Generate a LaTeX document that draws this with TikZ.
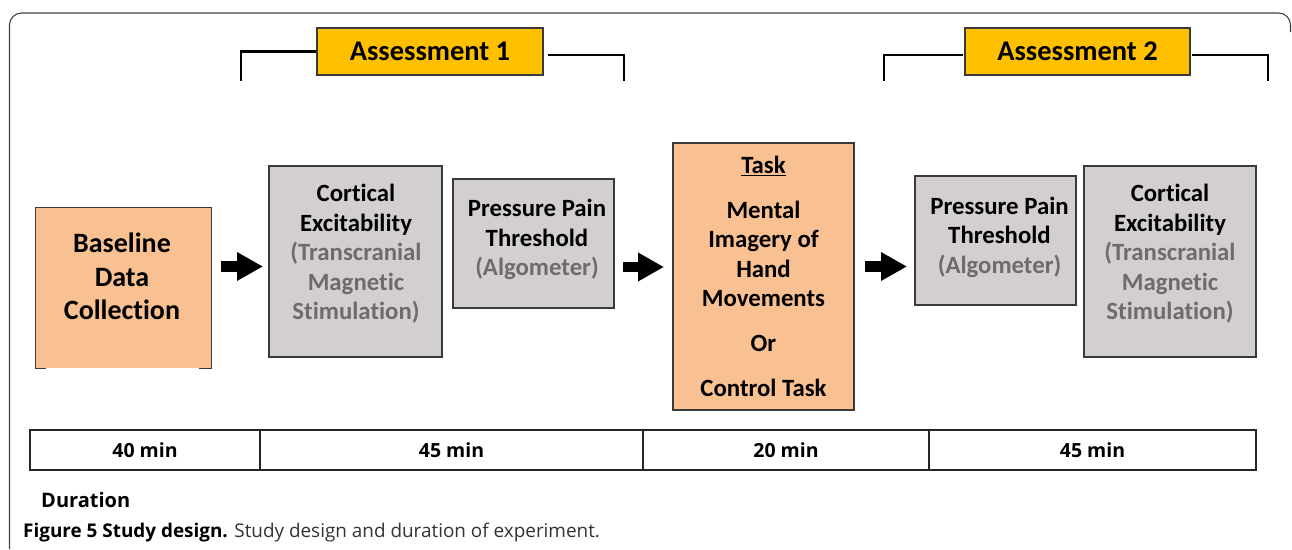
\documentclass[tikz,border=0pt]{standalone}
\usepackage{fontspec}
\setmainfont{Carlito}[Ligatures=NoCommon]
\newfontfamily\capfont{Open Sans}
\usetikzlibrary{arrows.meta,calc}
\definecolor{orangefill}{HTML}{F9C191}
\definecolor{greyfill}{HTML}{D2CFCE}
\definecolor{goldfill}{HTML}{FFC000}
\definecolor{greytext}{HTML}{6F6B6B}
\definecolor{edge}{HTML}{3A3A3A}
\begin{document}
\begin{tikzpicture}[x=1pt,y=-1pt,
  boxbase/.style={draw=edge,line width=1.2pt,inner sep=0pt},
  greybox/.style={boxbase,fill=greyfill},
  orangebox/.style={boxbase,fill=orangefill},
  goldbox/.style={boxbase,fill=goldfill,font=\fontsize{28.5}{32}\selectfont\bfseries},
  boxtext/.style={align=center,inner sep=0pt,font=\fontsize{24.8}{29.5}\selectfont\bfseries},
  bigtext/.style={align=center,inner sep=0pt,font=\fontsize{28}{33.5}\selectfont\bfseries},
  bracketline/.style={line width=2.6pt,black},
  blockarrow/.style={line width=10.5pt,-{Triangle[length=26pt,width=27pt]}},
  cell/.style={draw=black!85,line width=1.3pt,minimum height=40pt,inner sep=0pt,font=\capfont\fontsize{19.5}{22}\selectfont\bfseries}
]
\useasboundingbox (0,0) rectangle (1292,549);
% outer frame
\draw[draw=black!75,line width=1.1pt,rounded corners=12pt] (9.5,549) -- (9.5,13) -- (1290.5,13) -- (1290.5,32);

% assessment boxes
\node[goldbox,minimum width=226pt,minimum height=47pt] (as1) at (430,51.5) {Assessment 1};
\node[goldbox,minimum width=225pt,minimum height=47pt] (as2) at (1077.5,51.5) {Assessment 2};
\coordinate (b1l) at (241,81);
\coordinate (b1r) at (624,81);
\coordinate (b2l) at (884,81);
\coordinate (b2r) at (1268,81);
\draw[bracketline] (as1.west) -| (b1l);
\draw[bracketline,shorten <=4pt] ([yshift=-3.5pt]as1.east) -| (b1r);
\draw[bracketline,shorten <=1pt] ([yshift=-3.5pt]as2.west) -| (b2l);
\draw[bracketline,shorten <=1pt] ([yshift=-3.5pt]as2.east) -| (b2r);

% main boxes
\node[fill=orangefill,draw=none,minimum width=175pt,minimum height=160pt,inner sep=0pt] (base) at (123.5,288) {};
\draw[draw=edge,line width=1.2pt] ([xshift=10pt]base.south west) -- (base.south west) -- (base.north west) -- (base.north east) -- (base.south east) -- ([xshift=-12pt]base.south east);
\node[bigtext] (basetxt) at (122,276.5) {Baseline\\Data\\Collection};

\node[greybox,minimum width=173pt,minimum height=191pt] (ce1) at (355.5,261.5) {};
\node[boxtext] (ce1txt) at (356,254) {Cortical\\Excitability\\\textcolor{greytext}{(Transcranial}\\\textcolor{greytext}{Magnetic}\\\textcolor{greytext}{Stimulation)}};

\node[greybox,minimum width=161pt,minimum height=129pt] (pp1) at (533.5,243.5) {};
\node[boxtext] (pp1txt) at (537,239.5) {Pressure Pain\\Threshold\\\textcolor{greytext}{(Algometer)}};

\node[orangebox,minimum width=181pt,minimum height=267pt] (task) at (763.5,276.5) {};
\node[boxtext] (tasktxt) at (763.5,276.5) {\underline{Task}\\[15.5pt]Mental\\Imagery of\\Hand\\Movements\\[15.5pt]Or\\[15.5pt]Control Task};

\node[greybox,minimum width=161pt,minimum height=129pt] (pp2) at (995.5,240.5) {};
\node[boxtext] (pp2txt) at (999.5,237) {Pressure Pain\\Threshold\\\textcolor{greytext}{(Algometer)}};

\node[greybox,minimum width=172pt,minimum height=191pt] (ce2) at (1170,261.5) {};
\node[boxtext] (ce2txt) at (1170,254) {Cortical\\Excitability\\\textcolor{greytext}{(Transcranial}\\\textcolor{greytext}{Magnetic}\\\textcolor{greytext}{Stimulation)}};

% arrows
\coordinate (a1s) at (221,266.5);
\coordinate (a1e) at (263,266.5);
\coordinate (a2s) at (623,267);
\coordinate (a2e) at (664,267);
\coordinate (a3s) at (865,266.5);
\coordinate (a3e) at (907,266.5);
\draw[blockarrow] (a1s) -- (a1e);
\draw[blockarrow] (a2s) -- (a2e);
\draw[blockarrow] (a3s) -- (a3e);

% duration table
\node[cell,minimum width=230pt] (d1) at (145,450) {40 min};
\node[cell,minimum width=383pt] (d2) at (451.5,450) {45 min};
\node[cell,minimum width=286pt] (d3) at (786,450) {20 min};
\node[cell,minimum width=327pt] (d4) at (1092.5,450) {45 min};

\node[anchor=west,inner sep=0pt,font=\capfont\fontsize{20}{24}\selectfont\bfseries] (dur) at (41,500) {Duration};
\node[anchor=west,inner sep=0pt,font=\capfont\fontsize{18.9}{22}\selectfont] (cap) at (23,533) {\textbf{Figure 5 Study design.} \textcolor{black!80}{Study design and duration of experiment.}};
\end{tikzpicture}
\end{document}
